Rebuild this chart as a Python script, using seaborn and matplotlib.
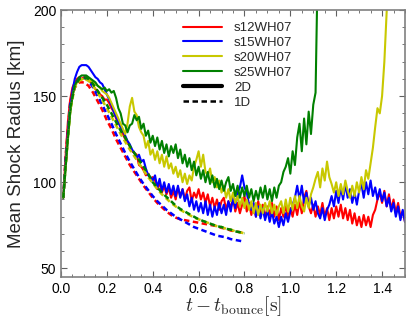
import numpy as np
import pandas as pd
import matplotlib
matplotlib.use("Agg")
import matplotlib.pyplot as plt
from matplotlib.lines import Line2D
from matplotlib.ticker import MultipleLocator
import seaborn as sns

# ---------------- data ----------------
t2d = np.round(np.arange(1, 151) * 0.01, 2)

r_s12_2d = [91, 115, 135, 148, 155, 158, 160, 161, 160, 161,
            161, 160, 158, 156, 154, 153, 151, 150, 148, 148,
            146, 143, 141, 137, 135, 132, 128, 125, 123, 121,
            118, 117, 116, 110, 109, 107, 104, 105, 102, 103,
            101, 96, 100, 94, 98, 93, 97, 91, 95, 90,
            97, 92, 96, 90, 95, 97, 89, 94, 91, 96,
            90, 94, 88, 93, 86, 91, 85, 90, 84, 89,
            91, 84, 89, 85, 91, 83, 88, 82, 87, 92,
            83, 88, 81, 87, 80, 89, 82, 87, 79, 86,
            81, 88, 80, 86, 78, 85, 80, 87, 79, 85,
            80, 87, 81, 89, 82, 91, 95, 86, 82, 87,
            80, 86, 81, 88, 80, 85, 78, 85, 79, 86,
            80, 87, 79, 85, 78, 84, 76, 82, 75, 80,
            74, 81, 75, 80, 74, 81, 84, 90, 94, 88,
            95, 86, 93, 84, 90, 82, 88, 80, 83, 77]

r_s15_2d = [91, 110, 128, 143, 153, 160, 164, 167, 168, 168,
            168, 167, 165, 163, 161, 160, 158, 157, 154, 151,
            148, 145, 141, 138, 135, 132, 130, 127, 124, 122,
            119, 117, 114, 116, 112, 113, 108, 104, 103, 101,
            104, 97, 102, 95, 100, 94, 99, 93, 98, 92,
            98, 91, 96, 89, 93, 86, 91, 84, 89, 83,
            88, 82, 89, 81, 87, 80, 86, 81, 88, 82,
            87, 81, 89, 83, 91, 85, 94, 97, 104, 97,
            94, 87, 84, 88, 80, 86, 79, 85, 78, 84,
            77, 83, 76, 80, 74, 80, 75, 82, 77, 83,
            87, 91, 98, 90, 98, 88, 94, 86, 91, 84,
            89, 82, 79, 85, 78, 84, 87, 92, 86, 95,
            88, 97, 90, 99, 91, 96, 88, 94, 87, 95,
            99, 91, 100, 93, 101, 92, 97, 90, 96, 89,
            94, 86, 91, 83, 88, 80, 86, 78, 84, 77]

r_s20_2d = [91, 108, 125, 140, 150, 155, 158, 159, 160, 160,
            160, 160, 159, 158, 157, 156, 155, 153, 152, 151,
            149, 146, 143, 140, 137, 134, 131, 128, 134, 144,
            149, 141, 139, 132, 129, 127, 120, 124, 116, 119,
            113, 118, 111, 116, 109, 115, 108, 111, 105, 109,
            103, 107, 100, 105, 99, 104, 101, 109, 113, 118,
            109, 116, 106, 104, 108, 100, 103, 97, 101, 94,
            98, 91, 96, 89, 94, 88, 92, 86, 91, 85,
            90, 84, 89, 82, 88, 81, 87, 82, 88, 83,
            89, 82, 87, 81, 86, 89, 82, 90, 83, 91,
            84, 92, 85, 92, 86, 83, 91, 85, 93, 97,
            102, 106, 97, 108, 101, 112, 103, 99, 94, 100,
            92, 99, 93, 101, 95, 91, 98, 92, 100, 94,
            103, 96, 107, 102, 111, 120, 132, 143, 140, 150,
            170, 198, 230]

r_s25_2d = [91, 108, 125, 140, 150, 156, 159, 161, 162, 162,
            162, 161, 160, 159, 158, 156, 155, 154, 155, 153,
            154, 152, 153, 149, 143, 140, 134, 133, 129, 133,
            134, 139, 136, 138, 131, 134, 127, 130, 123, 127,
            121, 126, 119, 124, 117, 122, 115, 121, 117, 122,
            114, 119, 111, 116, 109, 114, 107, 112, 104, 109,
            102, 107, 100, 106, 99, 104, 97, 102, 96, 101,
            95, 100, 103, 95, 99, 92, 98, 91, 97, 92,
            98, 91, 96, 89, 95, 90, 97, 91, 98, 90,
            96, 89, 97, 91, 98, 100, 106, 109, 114, 105,
            118, 110, 126, 134, 118, 137, 122, 141, 128, 145,
            152, 230]

t1d = [0.01, 0.02, 0.04, 0.06, 0.08, 0.10, 0.12, 0.14, 0.16, 0.18,
       0.20, 0.22, 0.24, 0.26, 0.28, 0.30, 0.32, 0.34, 0.36, 0.38,
       0.40, 0.42, 0.44, 0.46, 0.48, 0.50, 0.52, 0.54, 0.56, 0.58,
       0.60, 0.62, 0.64, 0.66, 0.68, 0.70, 0.72, 0.74, 0.76, 0.78, 0.80]

r_s12_1d = [91, 115, 146, 155, 158, 158, 156, 152, 147, 142,
            136, 131, 125, 120, 115, 110, 106, 102, 98, 94.5,
            91, 88, 85.5, 83, 81, 79.5, 78.5, 78, 77.5, 77,
            76.5, 76, 75.5, 75, 74.5, 73.5, 73, 72, 71.5, 71, 70.3]

r_s15_1d = [91, 112, 145, 156, 160, 161, 159, 155, 150, 145,
            139.5, 134, 128, 122.5, 117, 112, 107.5, 103, 99, 95.5,
            92, 89, 86.5, 84, 82, 80, 78.5, 77, 75.5, 74,
            73, 72, 71, 70, 69, 68.5, 68, 67, 66.5, 66, 65.5]

r_s20_1d = [91, 109, 142, 155, 159, 160, 159, 156, 152, 147.5,
            143, 138, 133, 128, 123.5, 119, 115, 111, 107, 103,
            99.5, 96, 93, 90.5, 88, 86, 84, 82.5, 81, 79.5,
            78.5, 77.5, 76.5, 75.5, 74.5, 74, 73, 72.5, 71.5, 71, 70.3]

r_s25_1d = [91, 110, 143, 156, 160, 161, 160, 157, 153, 149,
            145, 140, 135, 130, 126, 121, 117, 113, 109, 105,
            100, 97, 94, 91.5, 89, 86.5, 84.5, 83, 81.5, 80,
            78.5, 77.5, 76.5, 75.5, 74.5, 74, 73, 72.5, 71.5, 71, 70.3]

models = ["s12WH07", "s15WH07", "s20WH07", "s25WH07"]
colors = {"s12WH07": "#ff0000", "s15WH07": "#0000ff",
          "s20WH07": "#c8c800", "s25WH07": "#008000"}

series_2d = {"s12WH07": r_s12_2d, "s15WH07": r_s15_2d,
             "s20WH07": r_s20_2d, "s25WH07": r_s25_2d}
series_1d = {"s12WH07": r_s12_1d, "s15WH07": r_s15_1d,
             "s20WH07": r_s20_1d, "s25WH07": r_s25_1d}

# ---------------- style ----------------
sns.set_style("ticks")
plt.rcParams["font.family"] = ["Liberation Sans", "DejaVu Sans"]
plt.rcParams["mathtext.fontset"] = "cm"

fig = plt.figure(figsize=(4.11, 3.22), dpi=100)
ax = fig.add_axes([61 / 411, 45 / 322, 344 / 411, 267 / 322])

for m in models:
    vals = series_2d[m]
    df = pd.DataFrame({"t": t2d[:len(vals)], "R": vals})
    sns.lineplot(data=df, x="t", y="R", ax=ax, color=colors[m], lw=1.5,
                 estimator=None, sort=False)

for m in models:
    df = pd.DataFrame({"t": t1d, "R": series_1d[m]})
    sns.lineplot(data=df, x="t", y="R", ax=ax, color=colors[m], lw=1.8,
                 estimator=None, sort=False)
    ax.lines[-1].set_dashes((2.2, 1.4))

ax.set_xlim(0, 1.5)
ax.set_ylim(45, 200)
ax.xaxis.set_major_locator(MultipleLocator(0.2))
ax.xaxis.set_minor_locator(MultipleLocator(0.05))
ax.yaxis.set_major_locator(MultipleLocator(50))
ax.yaxis.set_minor_locator(MultipleLocator(10))
ax.xaxis.set_major_formatter(matplotlib.ticker.FormatStrFormatter("%.1f"))

for s in ax.spines.values():
    s.set_color("#808080")
    s.set_linewidth(1.2)
ax.tick_params(which="both", direction="in", top=True, right=True,
               color="#606060", labelsize=10, labelcolor="black")
ax.tick_params(which="major", length=4, width=0.8)
ax.tick_params(which="minor", length=2, width=0.6)

ax.set_xlabel(r"$t - t_{\rm bounce} [\rm s]$", fontsize=14)
ax.set_ylabel("Mean Shock Radius [km]", fontsize=13.5)
ax.xaxis.set_label_coords(0.5, -0.065)
ax.yaxis.set_label_coords(-0.105, 0.5)

handles = [Line2D([], [], color=colors[m], lw=1.5) for m in models]
handles += [Line2D([], [], color="black", lw=3),
            Line2D([], [], color="black", lw=1.8, dashes=(2.2, 1.4))]
labels = models + ["2D", "1D"]
ax.legend(handles, labels, loc="upper left",
          bbox_to_anchor=((185 - 61) / 344 - 0.005, 1 - 12 / 267),
          frameon=False, fontsize=9.5, handlelength=2.9,
          handletextpad=0.95, labelspacing=0.2, borderaxespad=0,
          borderpad=0)

fig.savefig("out.png", dpi=100)
